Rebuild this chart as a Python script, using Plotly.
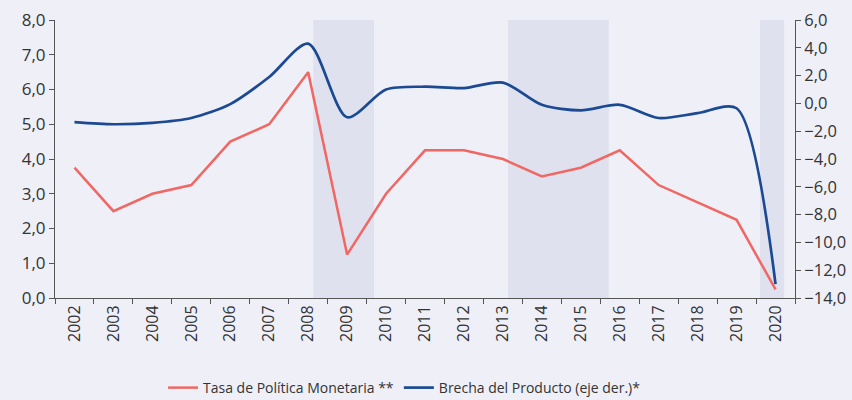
import plotly.graph_objects as go

years = [str(y) for y in range(2002, 2021)]
tpm = [3.75, 2.5, 3.0, 3.25, 4.5, 5.0, 6.5, 1.25, 3.0, 4.25, 4.25, 4.0, 3.5, 3.75, 4.25, 3.25, 2.75, 2.25, 0.25]
brecha = [-1.35, -1.5, -1.4, -1.05, -0.05, 1.9, 4.3, -1.0, 1.0, 1.2, 1.1, 1.5, -0.1, -0.5, -0.1, -1.05, -0.7, -0.35, -13.0]
# shaded periods (category-index coordinates)
shade_start = [6.13, 11.13, 17.6]
shade_end = [7.69, 13.72, 18.22]

fig = go.Figure()
for s, e in zip(shade_start, shade_end):
    fig.add_shape(type="rect", xref="x", yref="paper", x0=s, x1=e, y0=0, y1=1,
                  fillcolor="#dfe2ee", line_width=0, layer="below")

fig.add_trace(go.Scatter(x=years, y=tpm, mode="lines", name="Tasa de Política Monetaria **",
                         line=dict(color="#f06764", width=2.5)))
fig.add_trace(go.Scatter(x=years, y=brecha, mode="lines", name="Brecha del Producto (eje der.)*",
                         line=dict(color="#1b4a93", width=2.7, shape="spline", smoothing=0.8), yaxis="y2"))

axcol = "#555555"
fig.update_layout(
    width=852, height=400,
    margin=dict(l=55, r=57, t=20, b=102),
    paper_bgcolor="#eeeff7", plot_bgcolor="#eeeff7",
    font=dict(family="Open Sans", size=17, color="#333333"),
    separators=",.",
    showlegend=True,
    legend=dict(orientation="h", x=0.146, xanchor="left", yref="container", y=0.03, yanchor="middle",
                font=dict(size=14, color="#333333"), bgcolor="rgba(0,0,0,0)"),
    xaxis=dict(type="category", tickson="boundaries", tickangle=-90, showgrid=False, automargin=False,
               showline=True, linecolor=axcol, ticks="outside", tickcolor=axcol, ticklen=5,
               range=[-0.5, 18.5], tickfont=dict(size=16)),
    yaxis=dict(range=[0, 8], dtick=1, tickformat=".1f", showgrid=False, zeroline=False, automargin=False,
               showline=True, linecolor=axcol, ticks="outside", tickcolor=axcol, ticklen=5),
    yaxis2=dict(range=[-14, 6], dtick=2, tickformat=".1f", overlaying="y", side="right", automargin=False,
                showgrid=False, zeroline=False, showline=True, linecolor=axcol,
                ticks="outside", tickcolor=axcol, ticklen=5, tickfont=dict(size=16.5)),
)
fig.write_html("out.html", config={"displayModeBar": False},
               post_script="document.body.style.margin='0';document.body.style.background='#eeeff7';")
